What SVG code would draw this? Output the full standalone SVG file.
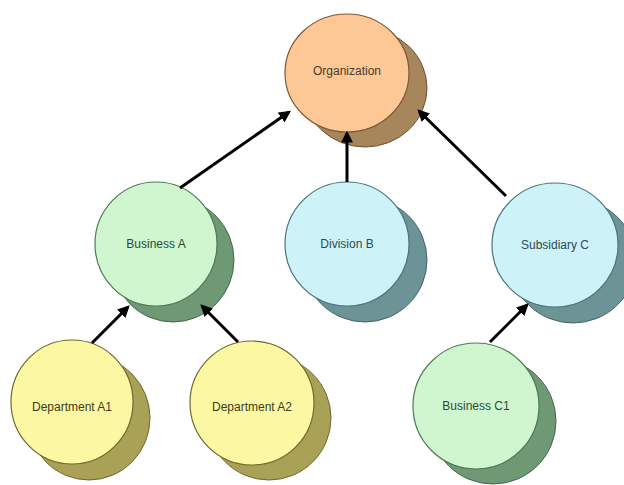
<svg xmlns="http://www.w3.org/2000/svg" width="624" height="485" viewBox="0 0 624 485">
<style>
.lbl{font-family:"Liberation Sans",Arial,sans-serif;font-size:12px;text-anchor:middle;dominant-baseline:central}
.o .f{fill:#fdc895;stroke:#7a5a38;stroke-width:1.2}
.o .s{fill:#a8865c;stroke:#6e5232;stroke-width:1}
.o text{fill:#4a3a2a}
.g .f{fill:#cff6cf;stroke:#4f7a55;stroke-width:1.2}
.g .s{fill:#6f9875;stroke:#44664a;stroke-width:1}
.g text{fill:#2e4a32}
.c .f{fill:#cdf3f9;stroke:#4b7479;stroke-width:1.2}
.c .s{fill:#6c9497;stroke:#436466;stroke-width:1}
.c text{fill:#2e4a50}
.y .f{fill:#fbf7a2;stroke:#6f6a30;stroke-width:1.2}
.y .s{fill:#a9a256;stroke:#6c6830;stroke-width:1}
.y text{fill:#3e3a1e}
.edge{stroke:#000;stroke-width:3;fill:none;marker-end:url(#ah)}
</style>
<defs>
<marker id="ah" viewBox="0 0 10 10" refX="8" refY="5" markerWidth="4" markerHeight="4" orient="auto" markerUnits="strokeWidth">
<path d="M0,0 L10,5 L0,10 z" fill="#000"/>
</marker>
</defs>
<rect width="624" height="485" fill="#fff"/>
<g id="organization" class="o">
<ellipse class="s" cx="365" cy="88" rx="62" ry="59"/>
<ellipse class="f" cx="347" cy="73" rx="62" ry="59"/>
<text class="lbl" x="347" y="71">Organization</text>
</g>
<g id="business-a" class="g">
<ellipse class="s" cx="173" cy="260" rx="61" ry="62"/>
<ellipse class="f" cx="156" cy="244" rx="61" ry="62"/>
<text class="lbl" x="156" y="244">Business A</text>
</g>
<g id="division-b" class="c">
<ellipse class="s" cx="365" cy="260" rx="62" ry="62"/>
<ellipse class="f" cx="347" cy="244" rx="62" ry="62"/>
<text class="lbl" x="347" y="244">Division B</text>
</g>
<g id="subsidiary-c" class="c">
<ellipse class="s" cx="573" cy="261" rx="63" ry="62"/>
<ellipse class="f" cx="555" cy="245" rx="63" ry="62"/>
<text class="lbl" x="555" y="245">Subsidiary C</text>
</g>
<g id="department-a1" class="y">
<ellipse class="s" cx="89" cy="418" rx="61" ry="62"/>
<ellipse class="f" cx="72" cy="402" rx="61" ry="62"/>
<text class="lbl" x="72" y="407">Department A1</text>
</g>
<g id="department-a2" class="y">
<ellipse class="s" cx="269" cy="418" rx="62" ry="62"/>
<ellipse class="f" cx="252" cy="403" rx="62" ry="62"/>
<text class="lbl" x="252" y="407">Department A2</text>
</g>
<g id="business-c1" class="g">
<ellipse class="s" cx="493" cy="421" rx="63" ry="63"/>
<ellipse class="f" cx="476" cy="406" rx="63" ry="63"/>
<text class="lbl" x="476" y="406">Business C1</text>
</g>
<g id="connectors">
<line class="edge" x1="180" y1="188" x2="289" y2="112"/>
<line class="edge" x1="347" y1="182" x2="347" y2="133"/>
<line class="edge" x1="506" y1="196" x2="419" y2="111"/>
<line class="edge" x1="92" y1="343" x2="128" y2="307"/>
<line class="edge" x1="238" y1="342" x2="202" y2="306"/>
<line class="edge" x1="490" y1="342" x2="527" y2="305"/>
</g>
</svg>
